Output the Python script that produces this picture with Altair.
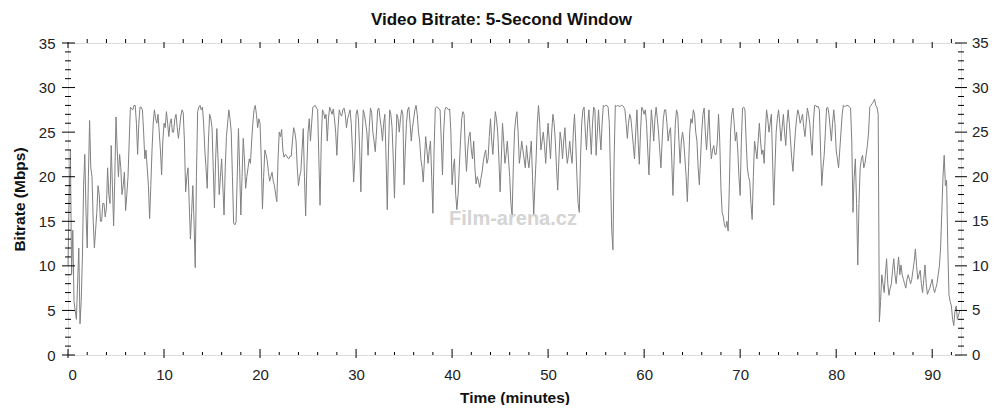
import altair as alt
import pandas as pd

# Video bitrate (Mbps), one reading every 0.125 minute
bitrate = [
    10, 18, 23, 9, 14, 6, 5, 4, 8, 12, 3.5, 6, 11, 19, 22.5, 16, 12, 20, 26.3, 21,
    20, 15, 12, 14, 16, 19, 18, 15, 15, 17, 17, 15.5, 16.5, 21, 18, 17, 23.5, 19, 14.5, 20,
    26.7, 23, 20, 22.5, 21, 18, 19, 20.5, 16.2, 18, 20, 24, 27.8, 27.6, 27.5, 28, 28, 26, 22.5, 26,
    27.8, 27.8, 27.5, 25, 22, 23, 21, 19, 15.3, 19, 23, 26, 27.5, 26.5, 26, 27, 25, 23, 20.2, 24,
    26, 25.5, 27.3, 26, 24.5, 26, 26.5, 25, 25, 26.5, 27, 25.5, 24.3, 25.5, 26.8, 27.5, 27.2, 24, 18.3, 20,
    21, 17, 13, 16, 19, 15, 9.8, 20, 27.3, 27.8, 28, 27.5, 27.8, 26, 23, 21, 18.7, 24, 27, 26.5,
    25.5, 21, 16.5, 22, 25.4, 22, 18, 20, 22, 19, 15.7, 21, 24.5, 26, 27.5, 26.5, 25, 20, 14.8, 14.6,
    14.9, 20, 25.4, 21, 15.7, 20, 24.3, 22, 18.7, 20, 21, 22, 21.5, 24, 26, 27.5, 28, 27, 25.5, 26.5,
    26, 22, 16.4, 20, 23, 22.5, 21.8, 20.5, 19.5, 20, 20.5, 19.5, 19, 18, 17.2, 22, 25, 24.5, 25.3, 23,
    22.2, 22.5, 22.4, 22.1, 22, 22.3, 22.3, 24, 25.5, 25, 24, 21, 19, 20, 20.6, 23, 25.4, 20, 15.6, 21,
    25, 26.5, 24, 26, 27.8, 27.9, 28, 27.7, 27.5, 22, 16.8, 24, 27.5, 27.2, 26.5, 27, 24, 26.5, 27.8, 27.4,
    27, 27.6, 26.5, 25, 22.4, 25.5, 27.5, 27, 26.8, 27.5, 27.7, 27, 25.5, 26.5, 27, 27.5, 26, 23, 19.4, 22,
    27, 27.5, 26.5, 23, 18.3, 24, 27.5, 27, 26, 25, 22.4, 25.5, 27.7, 27.2, 25, 24, 22.8, 25, 27.5, 27.7,
    26.5, 25.5, 24, 26, 27, 22, 16.3, 23, 27.5, 27, 25.5, 22, 17.6, 23, 27, 26.5, 25, 26.5, 27.5, 27,
    19.1, 23, 26, 27.5, 27.8, 26, 24, 25.5, 26.5, 27.5, 28, 27, 25, 24, 22, 21, 19.4, 22, 24.5, 23,
    21.5, 23, 24, 20, 15.9, 23, 27.7, 27.8, 27.8, 27.6, 27.5, 24, 20.2, 25, 27.5, 27.8, 27.7, 27.5, 27.6, 25,
    19.1, 21, 22, 18, 16.3, 18, 21, 24, 26.5, 27.3, 27, 23, 20.6, 23, 24.5, 25, 23, 22, 24, 21,
    19.2, 20, 19.5, 18.8, 19.8, 20.5, 21.7, 22.5, 23, 21.5, 22, 24.5, 26.5, 24, 22.5, 25, 27.3, 26.5, 25, 22,
    18.3, 22, 26, 24, 21.5, 22.5, 24, 22, 20, 17, 15.7, 21, 25, 26.5, 27.3, 25, 21.5, 22.5, 24, 23,
    22, 21, 23.5, 22, 21, 22.5, 24, 20, 15.7, 19, 22, 26, 28, 26, 23, 24, 25, 23.5, 21.5, 24,
    26, 24, 22, 25, 27, 26, 24, 21, 18.5, 22, 25, 24, 22, 24, 25.5, 23, 21.5, 22.5, 24, 22.5,
    21.5, 25, 27, 24, 20, 17, 16, 22, 26, 27.5, 27.8, 25, 23, 26, 27.5, 25, 22.5, 26, 27.8, 27.5,
    22.4, 25, 27.5, 25, 23, 26, 28, 27.9, 28, 28, 27.8, 26, 20, 14, 11.8, 22, 28, 27.9, 28, 27.9,
    27.9, 28, 28, 27.8, 27.5, 26, 24.3, 26, 27, 26.5, 25, 23.5, 22, 25, 27.5, 24, 21.4, 25, 27.8, 27.5,
    27, 27.5, 26, 23, 20.2, 24, 27.5, 26, 24, 26.5, 27.8, 26.5, 25, 23, 21, 24, 26.5, 27.5, 27.5, 26,
    24, 25, 25.5, 22, 17.9, 22, 26, 27.5, 27, 24, 21.5, 24, 25, 24, 22, 20, 17.2, 21, 25, 26.5,
    26, 27.5, 27, 25, 24, 21, 19.1, 22, 25, 27, 27.7, 25, 23, 25, 27.5, 24, 22, 23, 23.5, 22.5,
    22.5, 24, 27, 24, 18.7, 16, 15.5, 14.5, 14.3, 15, 13.9, 19, 25, 27, 27.7, 26, 24, 25, 23, 20,
    17.9, 24, 27.7, 27.8, 27.5, 24, 21, 20, 19.5, 17, 15.2, 20, 24, 23, 22, 24, 26, 24, 22.5, 23,
    21.5, 25, 27.5, 26.5, 25, 26, 27, 22, 16.8, 21, 25, 26.5, 27.5, 26, 24, 25.5, 27, 25, 23.5, 26,
    27.5, 26, 24, 22, 20.6, 23, 25, 26.5, 27.5, 27, 26, 26.5, 27, 25.5, 24.5, 26, 27.7, 27, 26, 24,
    22.4, 26, 28, 28, 27.8, 27.9, 27.5, 23, 19, 21, 22.4, 25, 27.7, 27.8, 27, 25.5, 24, 26, 27.5, 26,
    23, 22, 21, 23, 25, 27, 28, 27.9, 27.9, 28, 28, 27.8, 27.7, 24, 16, 20, 22, 17, 10.1, 17,
    21, 22, 22.4, 21, 21.5, 22.5, 23.5, 25, 27.8, 28, 28.2, 28.4, 28.7, 28, 27.8, 27, 3.7, 6, 9, 8,
    7, 9, 10.8, 8, 6.7, 7.5, 8, 9.5, 10.8, 9, 8, 9.5, 11, 9, 10.1, 9, 8.5, 8, 7.5, 8.5,
    9, 8.5, 8, 8.5, 9.5, 10.5, 11.9, 10, 8.5, 9, 9.5, 8, 7, 8.5, 10.1, 8, 6.8, 7.2, 7.5, 8,
    8.5, 7.5, 7, 7.5, 8, 9, 10, 12, 16, 20, 22.4, 19, 19.6, 12, 6.7, 6, 5.5, 4, 3.3, 5,
    5.5, 4, 4.5, 5,
]
step = 0.125
minutes = [round(i * step, 3) for i in range(len(bitrate))]

x_major = [0, 10, 20, 30, 40, 50, 60, 70, 80, 90]
x_minor = [2, 4, 6, 8, 12, 14, 16, 18, 22, 24, 26, 28, 32, 34, 36, 38, 42, 44, 46, 48,
           52, 54, 56, 58, 62, 64, 66, 68, 72, 74, 76, 78, 82, 84, 86, 88, 92]
y_major = [0, 5, 10, 15, 20, 25, 30, 35]
y_minor = [1, 2, 3, 4, 6, 7, 8, 9, 11, 12, 13, 14, 16, 17, 18, 19, 21, 22, 23, 24,
           26, 27, 28, 29, 31, 32, 33, 34]

title_text = "Video Bitrate: 5-Second Window"
x_title = "Time (minutes)"
y_title = "Bitrate (Mbps)"
watermark = "Film-arena.cz"

W, H = 893, 312
FONT = "Liberation Sans"

xs = alt.Scale(domain=[0, 93], nice=False, zero=False)
ys = alt.Scale(domain=[0, 35], nice=False, zero=False)

x_axis = alt.Axis(
    values=x_major, ticks=False, tickSize=0, domain=False, grid=False,
    labelFont=FONT, labelFontSize=15, labelColor="#222", labelPadding=12,
    title=x_title, titleFont=FONT, titleFontSize=15.5, titleFontWeight="bold",
    titleColor="#111", titlePadding=8)
y_axis = alt.Axis(
    values=y_major, ticks=False, tickSize=0, domain=False, grid=False,
    labelFont=FONT, labelFontSize=15, labelColor="#222", labelPadding=13,
    title=y_title, titleFont=FONT, titleFontSize=15.5, titleFontWeight="bold",
    titleColor="#111", titlePadding=11)

df = pd.DataFrame({"t": minutes, "v": bitrate})
xmaj = pd.DataFrame({"t": x_major})
xmin = pd.DataFrame({"t": x_minor})
ymaj = pd.DataFrame({"v": y_major})
ymin = pd.DataFrame({"v": y_minor})

wm = alt.Chart(pd.DataFrame({"s": [watermark]})).mark_text(
    font=FONT, fontSize=20, fontWeight="bold", color="#d4d4d4", align="center", baseline="middle"
).encode(x=alt.value(445), y=alt.value(176), text="s:N")

line = alt.Chart(df).mark_line(color="#808080", strokeWidth=1).encode(
    x=alt.X("t:Q", scale=xs, axis=x_axis),
    y=alt.Y("v:Q", scale=ys, axis=y_axis),
)

def xrule(data, y1, y2):
    return alt.Chart(data).mark_rule(color="black", strokeWidth=1).encode(
        x=alt.X("t:Q", scale=xs, axis=x_axis), y=alt.value(y1), y2=alt.value(y2))

def yrule(data, x1, x2):
    return alt.Chart(data).mark_rule(color="black", strokeWidth=1).encode(
        y=alt.Y("v:Q", scale=ys, axis=y_axis), x=alt.value(x1), x2=alt.value(x2))

ticks = [
    xrule(xmaj, H - 6, H + 3), xrule(xmin, H - 3, H),
    xrule(xmaj, -1, 5), xrule(xmin, -4, 0),
    yrule(ymaj, -6, 7), yrule(ymin, -3, 3),
    yrule(ymaj, W - 6, W + 6), yrule(ymin, W - 3, W + 3),
]

right_labels = alt.Chart(ymaj).mark_text(
    font=FONT, fontSize=15, color="#222", align="left", baseline="middle"
).encode(y=alt.Y("v:Q", scale=ys, axis=y_axis), x=alt.value(W + 11), text="v:Q")

title = alt.Chart(pd.DataFrame({"s": [title_text]})).mark_text(
    font=FONT, fontSize=17, fontWeight="bold", color="#111", align="center", baseline="middle"
).encode(x=alt.value(433.5), y=alt.value(-23), text="s:N")

chart = alt.layer(line, wm, *ticks, right_labels, title).properties(
    width=W, height=H,
    autosize=alt.AutoSizeParams(type="none"),
    padding={"left": 60, "top": 35, "right": 35, "bottom": 50},
).configure_view(stroke="black", strokeWidth=1).configure(background="white")

chart.save("out.html", embed_options={"renderer": "svg", "actions": False})
